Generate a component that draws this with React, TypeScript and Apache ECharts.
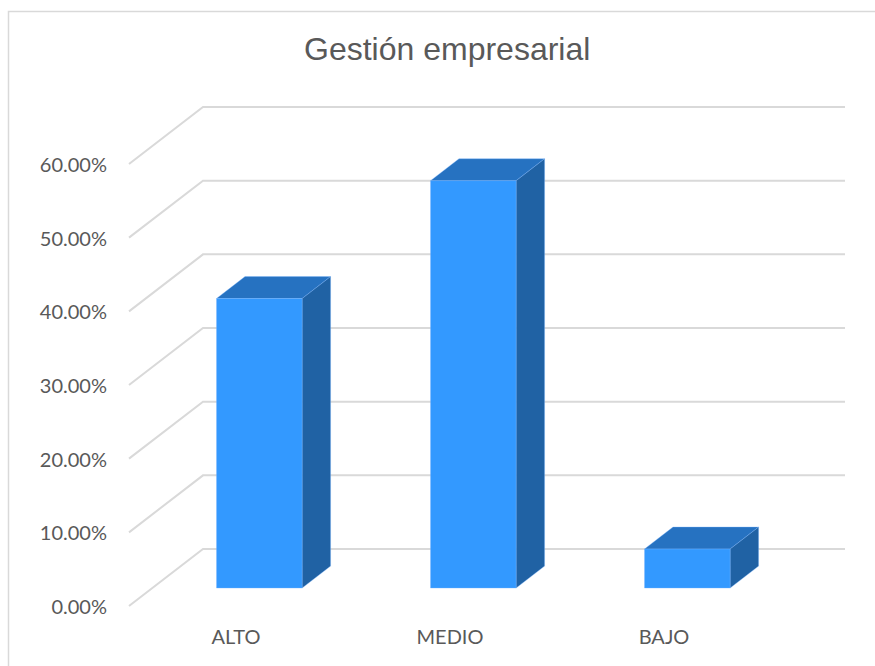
import React, { useEffect, useRef } from "react";
import * as echarts from "echarts";

const title = "Gestión empresarial";
const categories = ["ALTO", "MEDIO", "BAJO"];
const values = [0.393, 0.553, 0.053];
const yTicks = [0, 0.1, 0.2, 0.3, 0.4, 0.5, 0.6];

const DEPTH_X = 74;
const DEPTH_Y = -57;
const BAR_FRONT = 0.315;
const BAR_BACK = 0.7;
const GRID_COLOR = "#d9d9d9";
const FRONT = "#3399ff";
const TOP = "#2672c1";
const SIDE = "#2062a4";

export default function App() {
  const ref = useRef<HTMLDivElement>(null);
  useEffect(() => {
    if (!ref.current) return;
    const chart = echarts.init(ref.current, null, { renderer: "svg" });
    const option: any = {
      animation: false,
      backgroundColor: "#ffffff",
      title: {
        text: title,
        left: 304,
        top: 33,
        padding: 0,
        textStyle: {
          fontFamily: "Liberation Sans, Arial, sans-serif",
          fontSize: 32,
          fontWeight: "normal",
          color: "#595959",
        },
      },
      graphic: [
        {
          type: "rect",
          shape: { x: 8.5, y: 11.5, width: 900, height: 700 },
          style: { fill: "none", stroke: GRID_COLOR, lineWidth: 1.5 },
          silent: true,
        },
      ],
      grid: { left: 129, right: 104, top: 164, bottom: 60 },
      xAxis: {
        type: "category",
        data: categories,
        axisLine: { show: false },
        axisTick: { show: false },
        splitLine: { show: false },
        axisLabel: {
          color: "#595959",
          fontFamily: "Lato, sans-serif",
          fontSize: 20,
          margin: 20,
        },
      },
      yAxis: {
        type: "value",
        min: 0,
        max: 0.6,
        interval: 0.1,
        axisLine: { show: false },
        axisTick: { show: false },
        splitLine: { show: false },
        axisLabel: {
          color: "#595959",
          fontFamily: "Lato, sans-serif",
          fontSize: 20,
          margin: 22,
          formatter: (v: number) => (v * 100).toFixed(2) + "%",
        },
      },
      series: [
        {
          type: "custom",
          silent: true,
          z: 1,
          data: yTicks.map((t) => [0, t]),
          renderItem: (params: any, api: any) => {
            const cs = params.coordSys;
            const v = api.value(1);
            const y = api.coord([0, v])[1];
            const x0 = cs.x;
            const x1 = cs.x + DEPTH_X;
            const y1 = y + DEPTH_Y;
            const x2 = cs.x + cs.width + DEPTH_X;
            return {
              type: "polyline",
              shape: { points: [[x0, y], [x1, y1], [x2, y1]] },
              style: { stroke: GRID_COLOR, lineWidth: 2, fill: "none" },
            };
          },
        },
        {
          type: "custom",
          z: 2,
          data: values.map((v, i) => [i, v]),
          renderItem: (params: any, api: any) => {
            const i = api.value(0);
            const v = api.value(1);
            const top = api.coord([i, v]);
            const base = api.coord([i, 0]);
            const w = api.size([1, 0])[0] * 0.4;
            const fx = top[0] - w / 2 + BAR_FRONT * DEPTH_X;
            const fyTop = top[1] + BAR_FRONT * DEPTH_Y;
            const fyBot = base[1] + BAR_FRONT * DEPTH_Y;
            const ddx = (BAR_BACK - BAR_FRONT) * DEPTH_X;
            const ddy = (BAR_BACK - BAR_FRONT) * DEPTH_Y;
            const edge = { stroke: "rgba(120,180,255,0.6)", lineWidth: 0.6 };
            return {
              type: "group",
              children: [
                {
                  type: "polygon",
                  shape: {
                    points: [
                      [fx, fyTop],
                      [fx + ddx, fyTop + ddy],
                      [fx + w + ddx, fyTop + ddy],
                      [fx + w, fyTop],
                    ],
                  },
                  style: { fill: TOP, ...edge },
                },
                {
                  type: "polygon",
                  shape: {
                    points: [
                      [fx + w, fyTop],
                      [fx + w + ddx, fyTop + ddy],
                      [fx + w + ddx, fyBot + ddy],
                      [fx + w, fyBot],
                    ],
                  },
                  style: { fill: SIDE, ...edge },
                },
                {
                  type: "rect",
                  shape: { x: fx, y: fyTop, width: w, height: fyBot - fyTop },
                  style: { fill: FRONT, ...edge },
                },
              ],
            };
          },
        },
      ],
    };
    chart.setOption(option);
    return () => chart.dispose();
  }, []);
  return (
    <div
      ref={ref}
      style={{ position: "fixed", left: 0, top: 0, width: 875, height: 666 }}
    />
  );
}
